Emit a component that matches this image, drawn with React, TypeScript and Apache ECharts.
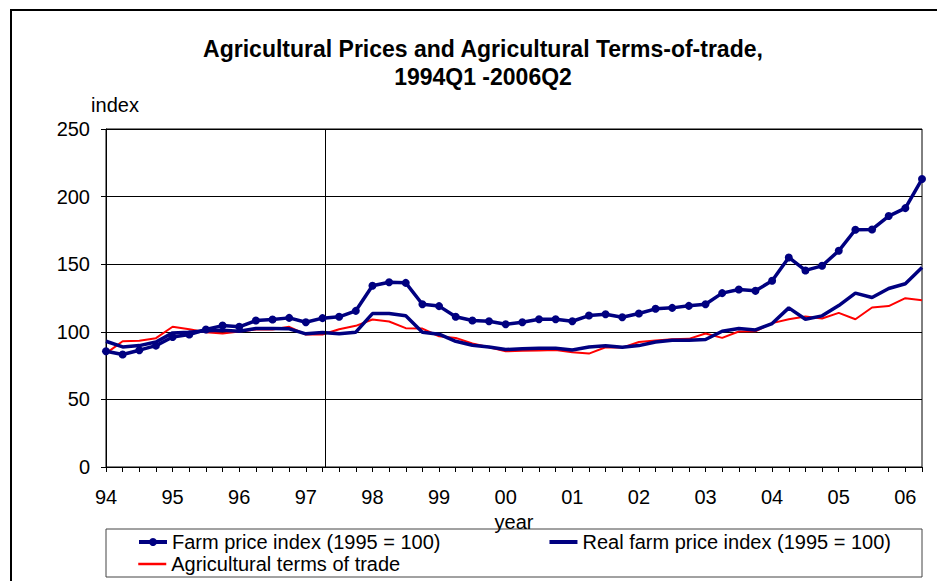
import React, { useEffect, useRef } from "react";
import * as echarts from "echarts";

const years = ["94", "95", "96", "97", "98", "99", "00", "01", "02", "03", "04", "05", "06"];
const categories: string[] = years.flatMap((y) => ["Q1", "Q2", "Q3", "Q4"].map((q) => y + q)).slice(0, 50);

const farmPrice = [
  85.6, 83.2, 86.4, 89.8, 96.2, 98.0, 101.7, 104.6, 103.7, 108.3,
  109.1, 110.3, 107.1, 110.1, 111.1, 115.5, 134.0, 136.7, 136.2, 120.4,
  119.0, 111.1, 108.3, 107.8, 105.6, 107.1, 109.3, 109.3, 107.8, 112.0,
  113.0, 110.8, 113.5, 117.0, 117.7, 119.2, 120.4, 128.6, 131.3, 130.3,
  137.7, 155.0, 145.4, 148.8, 159.9, 175.5, 175.7, 185.6, 191.5, 213.0,
];

const realFarmPrice = [
  93.0, 88.8, 89.8, 92.5, 99.2, 99.7, 100.7, 101.2, 100.4, 102.4,
  102.4, 102.2, 98.5, 99.5, 98.5, 99.7, 113.5, 113.5, 111.8, 99.7,
  98.2, 93.0, 90.1, 88.8, 86.9, 87.4, 87.9, 87.9, 86.6, 88.8,
  89.6, 88.6, 89.8, 92.5, 93.8, 93.8, 94.3, 100.4, 102.4, 101.4,
  106.1, 117.7, 109.3, 111.8, 119.4, 128.6, 125.4, 132.0, 135.5, 147.6,
];

const termsOfTrade = [
  84.0, 93.0, 93.3, 95.3, 103.7, 101.9, 99.7, 98.7, 100.2, 101.7,
  101.7, 103.7, 98.0, 98.0, 101.9, 104.4, 109.1, 107.6, 102.7, 102.4,
  96.7, 95.5, 91.3, 88.6, 85.6, 85.9, 86.1, 86.6, 84.9, 83.9,
  88.6, 88.3, 92.5, 93.5, 94.5, 94.8, 98.7, 95.5, 100.2, 100.4,
  106.4, 109.3, 111.3, 109.8, 114.0, 109.3, 118.0, 119.0, 124.9, 123.4,
];

const seriesNames = [
  "Farm price index (1995 = 100)",
  "Real farm price index (1995 = 100)",
  "Agricultural terms of trade",
];

const yTicks = { min: 0, max: 250, interval: 50 };
// position of the vertical reference line, in quarters from 1994Q1
const markerPosition = 13.15;

const FONT = "'Liberation Sans', Arial, sans-serif";
const hiddenDot = { color: "rgba(0,0,0,0)", borderWidth: 0 };

export default function App() {
  const ref = useRef<HTMLDivElement>(null);
  useEffect(() => {
    if (!ref.current) return;
    const chart = echarts.init(ref.current, undefined, { renderer: "svg" });
    const legendText = { fontFamily: FONT, fontSize: 20, color: "#000" };
    chart.setOption({
      animation: false,
      backgroundColor: "#fff",
      textStyle: { fontFamily: FONT },
      title: {
        text: "Agricultural Prices and Agricultural Terms-of-trade,\n1994Q1 -2006Q2",
        left: 478,
        top: 30,
        textAlign: "center",
        textStyle: { fontFamily: FONT, fontWeight: "bold", fontSize: 23, lineHeight: 28, color: "#000" },
      },
      graphic: [
        {
          type: "rect",
          shape: { x: 11, y: 10, width: 1000, height: 1000 },
          style: { fill: "none", stroke: "#000", lineWidth: 2 },
          silent: true,
        },
        {
          type: "rect",
          shape: { x: 106, y: 529, width: 816, height: 48 },
          style: { fill: "none", stroke: "#444", lineWidth: 1 },
          silent: true,
        },
      ],
      legend: [
        {
          left: 137,
          top: 532,
          itemGap: 107,
          itemWidth: 28,
          itemHeight: 10,
          padding: 0,
          textStyle: legendText,
          lineStyle: { width: 4 },
          data: [
            { name: seriesNames[0] },
            { name: seriesNames[1], itemStyle: hiddenDot },
          ],
        },
        {
          left: 137,
          top: 554,
          itemWidth: 28,
          itemHeight: 10,
          padding: 0,
          textStyle: legendText,
          lineStyle: { width: 2.5 },
          data: [{ name: seriesNames[2], itemStyle: hiddenDot }],
        },
      ],
      grid: {
        left: 106,
        right: 15,
        top: 129,
        bottom: 114,
        show: true,
        borderColor: "#000",
        borderWidth: 1,
        containLabel: false,
      },
      xAxis: [
        {
          type: "category",
          data: categories,
          boundaryGap: false,
          name: "year",
          nameLocation: "middle",
          nameGap: 39,
          nameTextStyle: { fontFamily: FONT, fontSize: 20, color: "#000" },
          axisLine: { lineStyle: { color: "#000", width: 1 } },
          axisTick: { show: true, interval: 0, length: 5, lineStyle: { color: "#000" } },
          axisLabel: {
            interval: 3,
            margin: 20,
            fontSize: 20,
            fontFamily: FONT,
            color: "#000",
            formatter: (v: string) => v.slice(0, 2),
          },
          splitLine: { show: false },
        },
        {
          type: "value",
          min: 0,
          max: categories.length - 1,
          show: false,
          position: "bottom",
        },
      ],
      yAxis: {
        type: "value",
        min: yTicks.min,
        max: yTicks.max,
        interval: yTicks.interval,
        name: "index",
        nameLocation: "end",
        nameGap: 14,
        nameTextStyle: { fontFamily: FONT, fontSize: 20, color: "#000", align: "center", padding: [0, 0, 0, 18] },
        axisLine: { show: true, lineStyle: { color: "#000" } },
        axisTick: { show: true, length: 5, lineStyle: { color: "#000" } },
        axisLabel: { fontSize: 20, fontFamily: FONT, color: "#000", margin: 16 },
        splitLine: { show: true, lineStyle: { color: "#000", width: 1 } },
      },
      series: [
        {
          name: "marker",
          type: "line",
          xAxisIndex: 1,
          data: [],
          symbol: "none",
          markLine: {
            silent: true,
            symbol: "none",
            label: { show: false },
            lineStyle: { color: "#000", width: 1, type: "solid" },
            data: [{ xAxis: markerPosition }],
          },
        },
        {
          name: seriesNames[2],
          type: "line",
          data: termsOfTrade,
          symbol: "none",
          lineStyle: { color: "#ff0000", width: 2 },
          itemStyle: { color: "#ff0000" },
          z: 3,
        },
        {
          name: seriesNames[1],
          type: "line",
          data: realFarmPrice,
          symbol: "none",
          lineStyle: { color: "#000080", width: 3.5 },
          itemStyle: { color: "#000080" },
          z: 4,
        },
        {
          name: seriesNames[0],
          type: "line",
          data: farmPrice,
          symbol: "circle",
          symbolSize: 8,
          showAllSymbol: true,
          lineStyle: { color: "#000080", width: 3.5 },
          itemStyle: { color: "#000080" },
          z: 5,
        },
      ],
    });
    return () => chart.dispose();
  }, []);
  return (
    <div
      ref={ref}
      style={{ position: "fixed", left: 0, top: 0, width: 937, height: 581 }}
    />
  );
}
